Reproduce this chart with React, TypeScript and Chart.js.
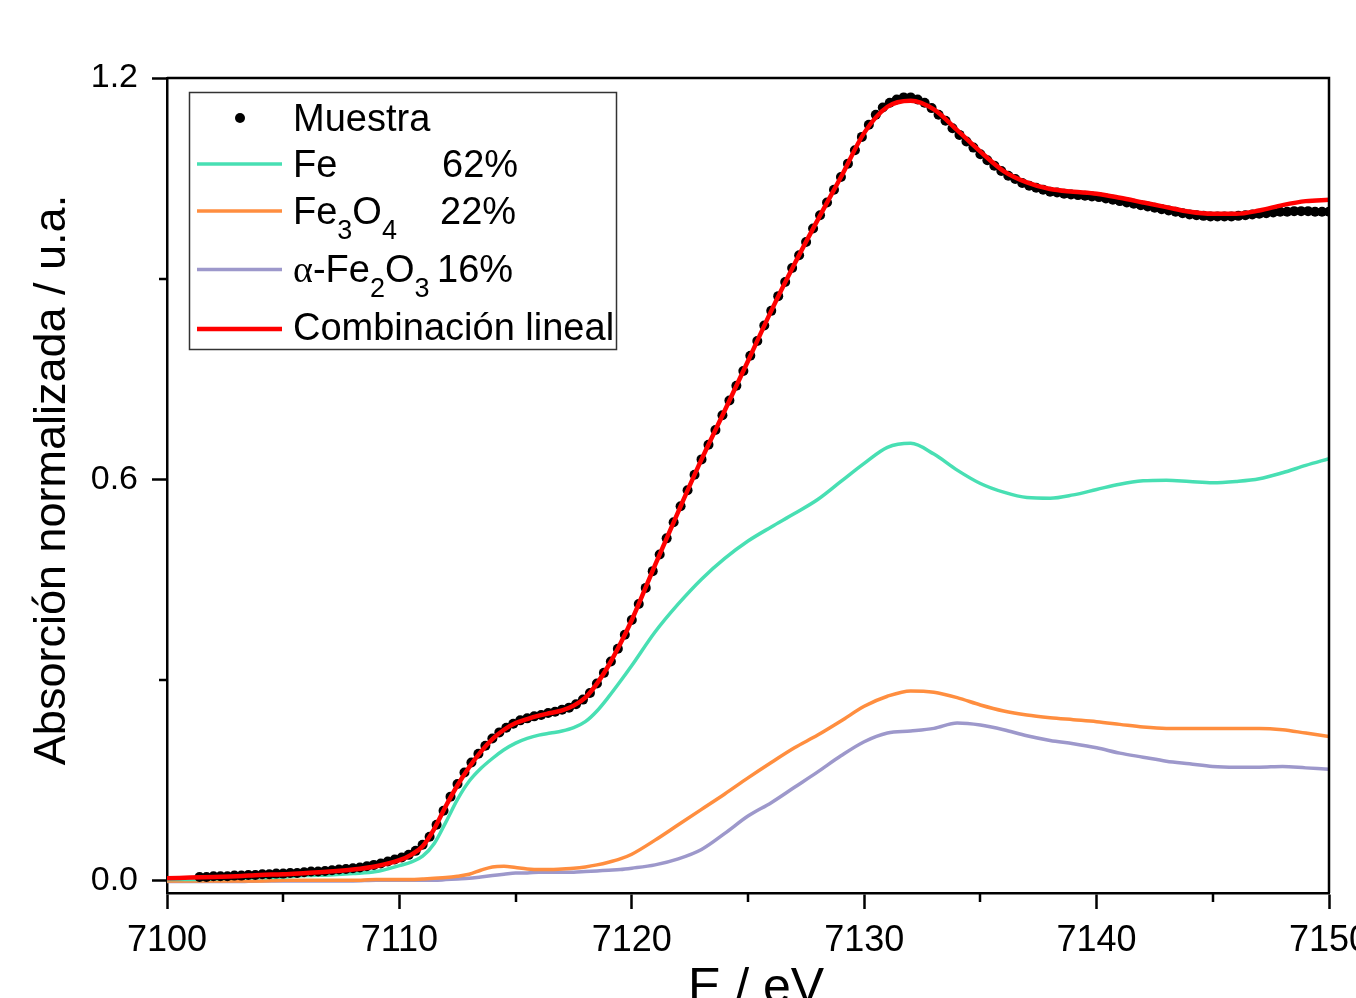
import React, { useEffect, useRef } from 'react';
import { Chart, registerables } from 'chart.js';

Chart.register(...registerables);

// ---------- data ----------
const LINE_E = [
  7100, 7101, 7102, 7103, 7104, 7105, 7106, 7107, 7108, 7109,
  7110, 7110.5, 7111, 7111.5, 7112, 7112.5, 7113, 7113.5, 7114, 7114.5,
  7115, 7115.5, 7116, 7116.5, 7117, 7117.5, 7118, 7118.5, 7119, 7119.5,
  7120, 7121, 7122, 7123, 7124, 7125, 7126, 7127, 7128, 7129,
  7130, 7131, 7132, 7133, 7134, 7135, 7136, 7137, 7138, 7139,
  7140, 7141, 7142, 7143, 7144, 7145, 7146, 7147, 7148, 7149,
  7150,
];

const COMBINACION = [
  0.004, 0.005, 0.006, 0.007, 0.009, 0.010, 0.012, 0.014, 0.017, 0.022,
  0.031, 0.039, 0.052, 0.078, 0.112, 0.143, 0.170, 0.193, 0.212, 0.226,
  0.236, 0.242, 0.247, 0.251, 0.255, 0.262, 0.274, 0.295, 0.322, 0.354,
  0.390, 0.472, 0.552, 0.630, 0.703, 0.777, 0.852, 0.922, 0.988, 1.052,
  1.118, 1.157, 1.166, 1.153, 1.122, 1.090, 1.061, 1.044, 1.034, 1.030,
  1.027, 1.021, 1.014, 1.007, 1.000, 0.997, 0.997, 1.002, 1.010, 1.016,
  1.018,
];

const FE = [
  0.002, 0.002, 0.003, 0.004, 0.005, 0.006, 0.008, 0.009, 0.011, 0.014,
  0.023, 0.028, 0.037, 0.056, 0.088, 0.122, 0.149, 0.168, 0.183, 0.196,
  0.206, 0.213, 0.218, 0.221, 0.224, 0.229, 0.238, 0.254, 0.275, 0.298,
  0.322, 0.372, 0.414, 0.451, 0.482, 0.508, 0.529, 0.549, 0.570, 0.597,
  0.624, 0.648, 0.654, 0.638, 0.614, 0.594, 0.581, 0.573, 0.572, 0.577,
  0.585, 0.593, 0.598, 0.599, 0.597, 0.595, 0.597, 0.601, 0.610, 0.621,
  0.631,
];

const FE3O4 = [
  0.000, 0.000, 0.000, 0.000, 0.000, 0.001, 0.001, 0.001, 0.001, 0.002,
  0.002, 0.002, 0.003, 0.004, 0.005, 0.007, 0.010, 0.016, 0.021, 0.022,
  0.020, 0.018, 0.017, 0.017, 0.018, 0.019, 0.021, 0.024, 0.028, 0.033,
  0.040, 0.061, 0.084, 0.107, 0.130, 0.154, 0.177, 0.199, 0.218, 0.239,
  0.261, 0.276, 0.284, 0.282, 0.274, 0.263, 0.254, 0.248, 0.244, 0.241,
  0.238, 0.234, 0.230, 0.228, 0.228, 0.228, 0.228, 0.228, 0.226, 0.221,
  0.216,
];

const FE2O3 = [
  -0.001, -0.001, -0.001, -0.001, 0.000, 0.000, 0.000, 0.000, 0.000, 0.001,
  0.001, 0.001, 0.001, 0.001, 0.002, 0.003, 0.004, 0.006, 0.008, 0.010,
  0.012, 0.012, 0.013, 0.013, 0.013, 0.013, 0.014, 0.015, 0.016, 0.017,
  0.019, 0.024, 0.033, 0.047, 0.071, 0.097, 0.117, 0.140, 0.163, 0.187,
  0.208, 0.221, 0.224, 0.228, 0.236, 0.233, 0.226, 0.217, 0.210, 0.205,
  0.199, 0.191, 0.185, 0.179, 0.175, 0.171, 0.170, 0.170, 0.171, 0.169,
  0.167,
];

const MUESTRA_E = [
  7101.4, 7101.7, 7102.0, 7102.3, 7102.6, 7102.9, 7103.2, 7103.5, 7103.8, 7104.1,
  7104.4, 7104.7, 7105.0, 7105.3, 7105.6, 7105.9, 7106.2, 7106.5, 7106.8, 7107.1,
  7107.4, 7107.7, 7108.0, 7108.3, 7108.6, 7108.9, 7109.2, 7109.5, 7109.8, 7110.1,
  7110.4, 7110.7, 7111.0, 7111.3, 7111.6, 7111.9, 7112.2, 7112.5, 7112.8, 7113.1,
  7113.4, 7113.7, 7114.0, 7114.3, 7114.6, 7114.9, 7115.2, 7115.5, 7115.8, 7116.1,
  7116.4, 7116.7, 7117.0, 7117.3, 7117.6, 7117.9, 7118.2, 7118.5, 7118.8, 7119.1,
  7119.4, 7119.7, 7120.0, 7120.3, 7120.6, 7120.9, 7121.2, 7121.5, 7121.8, 7122.1,
  7122.4, 7122.7, 7123.0, 7123.3, 7123.6, 7123.9, 7124.2, 7124.5, 7124.8, 7125.1,
  7125.4, 7125.7, 7126.0, 7126.3, 7126.6, 7126.9, 7127.2, 7127.5, 7127.8, 7128.1,
  7128.4, 7128.7, 7129.0, 7129.3, 7129.6, 7129.9, 7130.2, 7130.5, 7130.8, 7131.1,
  7131.4, 7131.7, 7132.0, 7132.3, 7132.6, 7132.9, 7133.2, 7133.5, 7133.8, 7134.1,
  7134.4, 7134.7, 7135.0, 7135.3, 7135.6, 7135.9, 7136.2, 7136.5, 7136.8, 7137.1,
  7137.4, 7137.7, 7138.0, 7138.3, 7138.6, 7138.9, 7139.2, 7139.5, 7139.8, 7140.1,
  7140.4, 7140.7, 7141.0, 7141.3, 7141.6, 7141.9, 7142.2, 7142.5, 7142.8, 7143.1,
  7143.4, 7143.7, 7144.0, 7144.3, 7144.6, 7144.9, 7145.2, 7145.5, 7145.8, 7146.1,
  7146.4, 7146.7, 7147.0, 7147.3, 7147.6, 7147.9, 7148.2, 7148.5, 7148.8, 7149.1,
  7149.4, 7149.7, 7150.0,
];

const MUESTRA = [
  0.006, 0.006, 0.007, 0.007, 0.007, 0.008, 0.008, 0.009, 0.009, 0.010,
  0.010, 0.011, 0.011, 0.012, 0.012, 0.013, 0.014, 0.014, 0.015, 0.016,
  0.017, 0.018, 0.019, 0.020, 0.022, 0.024, 0.026, 0.029, 0.032, 0.035,
  0.039, 0.045, 0.054, 0.066, 0.084, 0.105, 0.126, 0.145, 0.162, 0.177,
  0.190, 0.202, 0.213, 0.222, 0.229, 0.235, 0.240, 0.243, 0.246, 0.248,
  0.251, 0.253, 0.256, 0.259, 0.264, 0.271, 0.281, 0.295, 0.311, 0.328,
  0.347, 0.368, 0.390, 0.414, 0.438, 0.463, 0.488, 0.512, 0.536, 0.560,
  0.584, 0.607, 0.630, 0.652, 0.674, 0.696, 0.718, 0.740, 0.762, 0.785,
  0.807, 0.830, 0.852, 0.874, 0.895, 0.916, 0.935, 0.955, 0.975, 0.995,
  1.014, 1.033, 1.052, 1.072, 1.092, 1.112, 1.130, 1.145, 1.156, 1.163,
  1.168, 1.171, 1.171, 1.168, 1.163, 1.155, 1.145, 1.136, 1.125, 1.115,
  1.105, 1.096, 1.086, 1.077, 1.069, 1.061, 1.054, 1.049, 1.043, 1.039,
  1.036, 1.033, 1.030, 1.029, 1.027, 1.026, 1.025, 1.024, 1.023, 1.022,
  1.020, 1.018, 1.016, 1.014, 1.012, 1.010, 1.008, 1.006, 1.004, 1.002,
  1.000, 0.998, 0.996, 0.995, 0.994, 0.993, 0.993, 0.993, 0.993, 0.994,
  0.995, 0.996, 0.997, 0.998, 0.999, 1.000, 1.000, 1.001, 1.001, 1.001,
  1.000, 1.000, 1.000,
];

const X_TICKS = [7100, 7110, 7120, 7130, 7140, 7150];
const X_MINOR = [7105, 7115, 7125, 7135, 7145];
const Y_TICKS = [0.0, 0.6, 1.2];
const Y_MINOR = [0.3, 0.9];

const PCT_FE = '62%';
const PCT_FE3O4 = '22%';
const PCT_FE2O3 = '16%';

// ---------- styles ----------
const SANS = '"Liberation Sans", Arial, sans-serif';
const SERIF = '"Liberation Serif", "Times New Roman", serif';
const C_FE = '#48DFB3';
const C_FE3O4 = '#FF8E3F';
const C_FE2O3 = '#9D98CB';
const C_COMB = '#FF0000';

const CANVAS_W = 1400;
const CANVAS_H = 1040;

const xy = (xs: number[], ys: number[]) => xs.map((x, i) => ({ x, y: ys[i] }));

const extrasPlugin = {
  id: 'extras',
  afterDraw(chart: any) {
    const { ctx, chartArea, scales } = chart;
    const { left, right, top, bottom } = chartArea;
    const xs = scales.x;
    const ys = scales.y;
    ctx.save();
    // frame (top / right)
    ctx.strokeStyle = '#000';
    ctx.lineWidth = 2.5;
    ctx.beginPath();
    ctx.moveTo(left, top);
    ctx.lineTo(right, top);
    ctx.lineTo(right, bottom);
    ctx.stroke();

    // minor ticks
    ctx.beginPath();
    X_MINOR.forEach((v) => {
      const p = Math.round(xs.getPixelForValue(v));
      ctx.moveTo(p, bottom);
      ctx.lineTo(p, bottom + 9);
    });
    Y_MINOR.forEach((v) => {
      const p = Math.round(ys.getPixelForValue(v));
      ctx.moveTo(left - 8, p);
      ctx.lineTo(left, p);
    });
    ctx.stroke();

    // axis titles
    ctx.fillStyle = '#000';
    ctx.font = `50px ${SANS}`;
    ctx.textAlign = 'center';
    ctx.textBaseline = 'alphabetic';
    ctx.fillText('E / eV', 756, 1003);

    ctx.save();
    ctx.translate(65, 480);
    ctx.rotate(-Math.PI / 2);
    ctx.font = `45px ${SANS}`;
    ctx.textAlign = 'center';
    ctx.fillText('Absorción normalizada / u.a.', 0, 0);
    ctx.restore();

    // legend
    ctx.fillStyle = '#fff';
    ctx.fillRect(189, 92, 428, 258);
    ctx.strokeStyle = '#333';
    ctx.lineWidth = 1.5;
    ctx.strokeRect(189.5, 92.5, 427, 257);

    const big = `38px ${SANS}`;
    const sub = `27px ${SANS}`;
    const tx = 293;
    ctx.textAlign = 'left';
    ctx.textBaseline = 'alphabetic';
    ctx.fillStyle = '#000';

    // Muestra
    ctx.beginPath();
    ctx.arc(240, 118, 5, 0, Math.PI * 2);
    ctx.fill();
    ctx.font = big;
    ctx.fillText('Muestra', tx, 131);

    const sample = (y: number, color: string, w: number) => {
      ctx.strokeStyle = color;
      ctx.lineWidth = w;
      ctx.beginPath();
      ctx.moveTo(197, y);
      ctx.lineTo(282, y);
      ctx.stroke();
    };

    const run = (parts: [string, string, number][], x0: number, base: number) => {
      let x = x0;
      parts.forEach(([text, font, dy]) => {
        ctx.font = font;
        ctx.fillText(text, x, base + dy);
        x += ctx.measureText(text).width;
      });
    };

    // Fe
    sample(164, C_FE, 3.5);
    ctx.fillStyle = '#000';
    ctx.font = big;
    ctx.fillText('Fe', tx, 177);
    ctx.fillText(PCT_FE, 442, 177);

    // Fe3O4
    sample(211, C_FE3O4, 3.5);
    run([['Fe', big, 0], ['3', sub, 15], ['O', big, 0], ['4', sub, 15]], tx, 223.5);
    ctx.font = big;
    ctx.fillText(PCT_FE3O4, 440, 223.5);

    // α-Fe2O3
    sample(269.5, C_FE2O3, 3.5);
    run([
      ['α', `38px ${SERIF}`, 0],
      ['-Fe', big, 0],
      ['2', sub, 15],
      ['O', big, 0],
      ['3', sub, 15],
    ], tx, 282);
    ctx.font = big;
    ctx.fillText(PCT_FE2O3, 437, 282);

    // Combinación lineal
    sample(329, C_COMB, 4.5);
    ctx.fillStyle = '#000';
    ctx.font = big;
    ctx.fillText('Combinación lineal', tx, 340);

    ctx.restore();
  },
};

export default function App() {
  const ref = useRef<HTMLCanvasElement | null>(null);

  useEffect(() => {
    if (!ref.current) return;
    const lineDs = (label: string, ys: number[], color: string, width: number) => ({
      label,
      data: xy(LINE_E, ys),
      borderColor: color,
      backgroundColor: color,
      borderWidth: width,
      pointRadius: 0,
      fill: false,
      cubicInterpolationMode: 'monotone' as const,
    });

    const chart = new Chart(ref.current, {
      type: 'line',
      data: {
        datasets: [
          lineDs('Combinación lineal', COMBINACION, C_COMB, 4.5),
          {
            label: 'Muestra',
            data: xy(MUESTRA_E, MUESTRA),
            showLine: false,
            pointRadius: 5,
            pointBackgroundColor: '#000',
            pointBorderColor: '#000',
            pointBorderWidth: 0,
            borderColor: '#000',
            backgroundColor: '#000',
          } as any,
          lineDs('Fe', FE, C_FE, 3.5),
          lineDs('Fe3O4', FE3O4, C_FE3O4, 3.5),
          lineDs('α-Fe2O3', FE2O3, C_FE2O3, 3.5),
        ],
      },
      options: {
        animation: false,
        responsive: false,
        devicePixelRatio: 1,
        layout: { padding: { top: 78, right: CANVAS_W - 1329, left: 0, bottom: 0 } },
        plugins: {
          legend: { display: false },
          tooltip: { enabled: false },
        },
        scales: {
          x: {
            type: 'linear',
            min: 7100,
            max: 7150,
            afterBuildTicks: (s: any) => {
              s.ticks = X_TICKS.map((v) => ({ value: v }));
            },
            afterFit: (s: any) => {
              s.height = CANVAS_H - 893;
            },
            ticks: {
              color: '#000',
              font: { family: SANS, size: 36 },
              padding: 10,
              maxRotation: 0,
              autoSkip: false,
              callback: (v: any) => String(v),
            },
            grid: {
              drawOnChartArea: false,
              drawTicks: true,
              tickLength: 16,
              tickWidth: 2.5,
              tickColor: '#000',
            },
            border: { display: true, color: '#000', width: 2.5 },
          },
          y: {
            type: 'linear',
            min: -0.018,
            max: 1.2,
            afterBuildTicks: (s: any) => {
              s.ticks = Y_TICKS.map((v) => ({ value: v }));
            },
            afterFit: (s: any) => {
              s.width = 167;
            },
            ticks: {
              color: '#000',
              font: { family: SANS, size: 34 },
              padding: 14,
              autoSkip: false,
              callback: (v: any) => Number(v).toFixed(1),
            },
            grid: {
              drawOnChartArea: false,
              drawTicks: true,
              tickLength: 15,
              tickWidth: 2.5,
              tickColor: '#000',
            },
            border: { display: true, color: '#000', width: 2.5 },
          },
        },
      },
      plugins: [extrasPlugin],
    });
    return () => chart.destroy();
  }, []);

  return (
    <div
      style={{
        position: 'fixed',
        left: 0,
        top: 0,
        width: 1356,
        height: 998,
        overflow: 'hidden',
        background: '#fff',
      }}
    >
      <canvas
        ref={ref}
        width={CANVAS_W}
        height={CANVAS_H}
        style={{ width: CANVAS_W, height: CANVAS_H, display: 'block' }}
      />
    </div>
  );
}
